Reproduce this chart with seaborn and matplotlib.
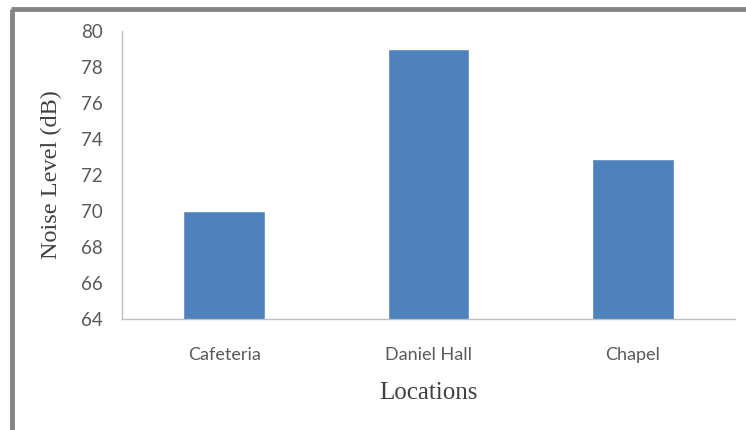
import matplotlib
matplotlib.use("Agg")
import matplotlib.pyplot as plt
from matplotlib.lines import Line2D
import seaborn as sns
import pandas as pd

locations = ["Cafeteria", "Daniel Hall", "Chapel"]
noise_db = [70.0, 79.0, 72.9]
y_ticks = [64, 66, 68, 70, 72, 74, 76, 78, 80]

sns.set_theme(style="white")
plt.rcParams['font.family'] = ['Lato', 'DejaVu Sans']

df = pd.DataFrame({"Location": locations, "Noise": noise_db})

W, H = 746, 430
fig = plt.figure(figsize=(W / 100, H / 100), dpi=100)
fig.patch.set_facecolor("white")
ax = fig.add_axes([122 / W, (H - 319) / H, (735 - 122) / W, (319 - 31) / H])

sns.barplot(data=df, x="Location", y="Noise", order=locations, color="#4F81BD",
            saturation=1, width=0.4, ax=ax, bottom=0)

ax.set_ylim(64, 80)
ax.set_xlim(-0.5, 2.5)
ax.set_yticks(y_ticks)
ax.set_yticklabels([str(t) for t in y_ticks], fontsize=13.5, color="#595959")

ax.set_xticks(range(len(locations)))
ax.set_xticklabels(locations, fontsize=13, color="#595959")
ax.set_xticks([-0.5, 0.5, 1.5, 2.5], minor=True)
ax.tick_params(axis="x", which="major", length=0, pad=20)
ax.tick_params(axis="x", which="minor", length=6, width=1, color="#BFBFBF", direction="out")
ax.tick_params(axis="y", which="major", length=8, width=1, color="#BFBFBF", direction="out", pad=6)

for s in ["top", "right"]:
    ax.spines[s].set_visible(False)
for s in ["left", "bottom"]:
    ax.spines[s].set_color("#BFBFBF")
    ax.spines[s].set_linewidth(1)

ax.set_ylabel("Noise Level (dB)", fontsize=17.5, family=["Liberation Serif"], color="#404040")
ax.yaxis.set_label_coords((62 - 122) / 613, 0.5)
ax.set_xlabel("Locations", fontsize=18, family=["Liberation Serif"], color="#404040")
ax.xaxis.set_label_coords(0.5, (319 - 382) / 288)
ax.xaxis.label.set_va("top")

# outer frame (left and top edges)
fig.add_artist(Line2D([12 / W, 12 / W], [0, (H - 9) / H], transform=fig.transFigure,
                      color="#858585", linewidth=3.5, solid_capstyle="butt"))
fig.add_artist(Line2D([10.7 / W, 1], [(H - 9) / H, (H - 9) / H], transform=fig.transFigure,
                      color="#858585", linewidth=3.5, solid_capstyle="butt"))

fig.savefig("out.png", dpi=100, facecolor="white")
